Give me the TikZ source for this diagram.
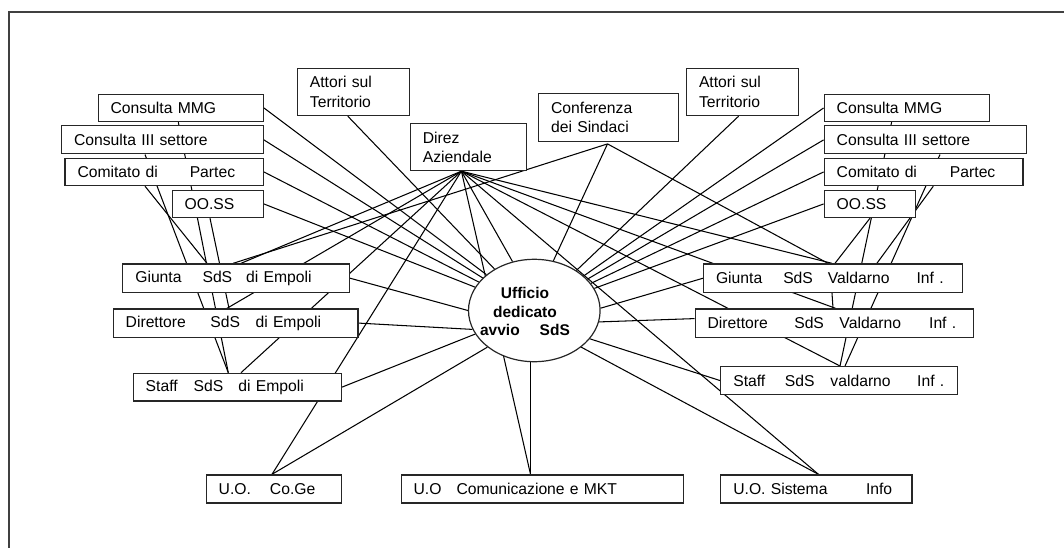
\documentclass[tikz,border=0pt]{standalone}
\usepackage{fontspec}
\setmainfont{Liberation Sans}
\usetikzlibrary{shapes.geometric,backgrounds,calc}
\begin{document}
\begin{tikzpicture}[x=1pt,y=-1pt,
  box/.style={draw=black!85, line width=1.2pt, fill=white, anchor=north west,
    inner xsep=12.5pt, inner ysep=0pt, align=left,
    font=\fontsize{15.7}{19.3}\selectfont},
  link/.style={draw=black, line width=1.05pt},
  frameline/.style={draw=black!75, line width=1.2pt}]

\useasboundingbox (0,0) rectangle (1064,548);

% page frame
\coordinate (frameTR) at (1064,12);
\coordinate (frameTL) at (9,12);
\coordinate (frameBL) at (9,548);
\draw[frameline] (frameTR) -- (frameTL) -- (frameBL);

% ---- left column of bodies
\node[box, text width=140.2pt, minimum height=27.3pt] (mmgL)  at (97.5,93.7)  {\mbox{Consulta MMG}};
\node[box, text width=176.7pt, minimum height=28pt]   (iiiL)  at (61,125.3)   {\mbox{Consulta III settore}};
\node[box, text width=173.3pt, minimum height=27.3pt] (comL)  at (64.4,157.7)  {\mbox{Comitato di\hspace{32pt}Partec}};
\node[box, text width=66.2pt,  minimum height=27.3pt] (oossL) at (171.5,189.7) {\mbox{OO.SS}};

% ---- top row
\node[box, text width=87.2pt,  minimum height=47.3pt] (attL)  at (296.8,67.7) {Attori sul\\Territorio};
\node[box, text width=91.4pt,  minimum height=46.7pt] (direz) at (409.8,123.3) {Direz\\Aziendale};
\node[box, text width=114.9pt, minimum height=47.4pt] (conf)  at (538,93.3)   {Conferenza\\dei Sindaci};
\node[box, text width=87pt,    minimum height=47.3pt] (attR)  at (685.9,67.7) {Attori sul\\Territorio};

% ---- right column of bodies
\node[box, text width=140.5pt, minimum height=27.3pt] (mmgR)  at (823.6,93.7)  {\mbox{Consulta MMG}};
\node[box, text width=177pt,   minimum height=28pt]   (iiiR)  at (823.6,125.3) {\mbox{Consulta III settore}};
\node[box, text width=173.8pt, minimum height=27.3pt] (comR)  at (823.6,157.7) {\mbox{Comitato di\hspace{33pt}Partec}};
\node[box, text width=66.3pt,  minimum height=27.3pt] (oossR) at (823.6,189.7) {\mbox{OO.SS}};

% ---- SdS di Empoli
\node[box, text width=201.3pt, minimum height=28.4pt] (giuE) at (122.2,263.3) {\mbox{Giunta\hspace{21pt}SdS\hspace{14pt}di Empoli}};
\node[box, text width=219.8pt, minimum height=28.4pt] (dirE) at (112.6,308.3) {\mbox{Direttore\hspace{24.5pt}SdS\hspace{15.5pt}di Empoli}};
\node[box, text width=183.3pt, minimum height=27.6pt] (staE) at (132.6,372.7) {\mbox{Staff\hspace{16pt}SdS\hspace{15pt}di Empoli}};

% ---- SdS Valdarno Inferiore
\node[box, text width=233.8pt, minimum height=28.7pt] (giuV) at (702.9,263.3) {\mbox{Giunta\hspace{21pt}SdS\hspace{15pt}Valdarno\hspace{27pt}Inf .}};
\node[box, text width=253pt,   minimum height=28.4pt] (dirV) at (694.5,308.3) {\mbox{Direttore\hspace{26.5pt}SdS\hspace{15.5pt}Valdarno\hspace{28pt}Inf .}};
\node[box, text width=211.3pt, minimum height=28pt]   (staV) at (720.2,366)   {\mbox{Staff\hspace{19.5pt}SdS\hspace{16pt}valdarno\hspace{26.5pt}Inf .}};

% ---- operating units
\node[box, text width=110.3pt, minimum height=28pt] (coge) at (205.6,474.3) {\mbox{U.O.\hspace{19pt}Co.Ge}};
\node[box, text width=257.6pt, minimum height=28pt] (comm) at (400.5,474.3) {\mbox{U.O\hspace{15pt}Comunicazione e MKT}};
\node[box, text width=166.2pt, minimum height=28pt] (sist) at (720.2,474.3) {\mbox{U.O. Sistema\hspace{38.5pt}Info}};

% ---- central office
\node[draw=black!85, line width=1.2pt, fill=white, ellipse, inner sep=0pt,
      minimum width=131.6pt, minimum height=102.4pt] (ell) at (534.3,310.5) {};
\node[align=center, inner sep=0pt, font={\fontsize{15.5}{18.6}\selectfont\bfseries}]
      (elltxt) at (525,311.5) {Ufficio\\dedicato\\avvio\hspace{20pt}SdS};

% fan points under Direz and Conferenza
\coordinate (fan)  at ($(direz.south west)+(51.6,0)$);
\coordinate (cpt)  at ($(conf.south west)+(69.5,2)$);

\begin{pgfonlayer}{background}
  % left bodies towards the Empoli boards
  \draw[link] ($(mmgL.south west)+(80.8,0)$) -- ($(staE.north west)+(95.7,0)$);
  \draw[link] ($(iiiL.south west)+(84,0)$)   -- ($(staE.north west)+(95.7,0)$);
  \draw[link] ($(comL.south west)+(80.6,0)$) -- ($(giuE.north west)+(84.8,0)$);
  \draw[link] ($(oossL.south west)+(38.5,0)$) -- ($(dirE.north west)+(116.4,0)$);

  % right bodies towards the Valdarno boards
  \draw[link] ($(mmgR.south west)+(68,0)$)    -- ($(staV.north west)+(119.8,0)$);
  \draw[link] ($(iiiR.south west)+(116.4,0)$) -- ($(staV.north west)+(124.8,0)$);
  \draw[link] ($(comR.south west)+(109.7,0)$) -- ($(giuV.north west)+(174,0)$);
  \draw[link] ($(oossR.south west)+(46.4,0)$) -- ($(giuV.north west)+(132.1,0)$);
  \draw[link] ($(giuV.south west)+(129.1,0)$) -- ($(dirV.north west)+(138.5,0)$);

  % Direz Aziendale
  \draw[link] (fan) -- ($(giuE.north west)+(118.8,0)$);
  \draw[link] (fan) -- ($(dirE.north west)+(114.4,0)$);
  \draw[link] (fan) -- ($(staE.north west)+(108.4,0)$);
  \draw[link] (fan) -- ($(coge.north west)+(66.4,0)$);
  \draw[link] (fan) -- (ell.114);
  \draw[link] (fan) -- ($(comm.north west)+(130,0)$);
  \draw[link] (fan) -- ($(sist.north west)+(98.2,0)$);
  \draw[link] (fan) -- ($(staV.north west)+(119.8,0)$);
  \draw[link] (fan) -- ($(dirV.north west)+(141,0)$);
  \draw[link] (fan) -- ($(giuV.north west)+(129.1,0)$);

  % Conferenza dei Sindaci
  \draw[link] (cpt) -- ($(giuE.north west)+(111,0)$);
  \draw[link] (cpt) -- (ell.69);
  \draw[link] (cpt) -- ($(giuV.north west)+(125,0)$);

  % everything towards the central office
  \draw[link] (mmgL.east)  -- (ell);
  \draw[link] (iiiL.east)  -- (ell);
  \draw[link] (comL.east)  -- (ell);
  \draw[link] (oossL.east) -- (ell);
  \draw[link] ($(attL.south west)+(51,0)$) -- (ell);
  \draw[link] (giuE.east) -- (ell.180);
  \draw[link] (dirE.east) -- (ell.197);
  \draw[link] (staE.east) -- (ell);
  \draw[link] ($(coge.north west)+(66.4,0)$) -- (ell.218);
  \coordinate (cmtop) at ($(comm.north west)+(130,0)$);
  \draw[link] (cmtop) -- (cmtop |- ell.south);
  \draw[link] ($(sist.north west)+(98.2,0)$) -- (ell.322);
  \draw[link] (staV.west) -- (ell.333);
  \draw[link] ($(dirV.west)+(0,-4.5)$) -- (ell.350);
  \draw[link] (giuV.west) -- (ell.2);
  \draw[link] ($(attR.south west)+(52.7,0)$) -- (ell);
  \draw[link] (mmgR.west)  -- (ell);
  \draw[link] (iiiR.west)  -- (ell);
  \draw[link] (comR.west)  -- (ell);
  \draw[link] (oossR.west) -- (ell);
\end{pgfonlayer}
\end{tikzpicture}
\end{document}
